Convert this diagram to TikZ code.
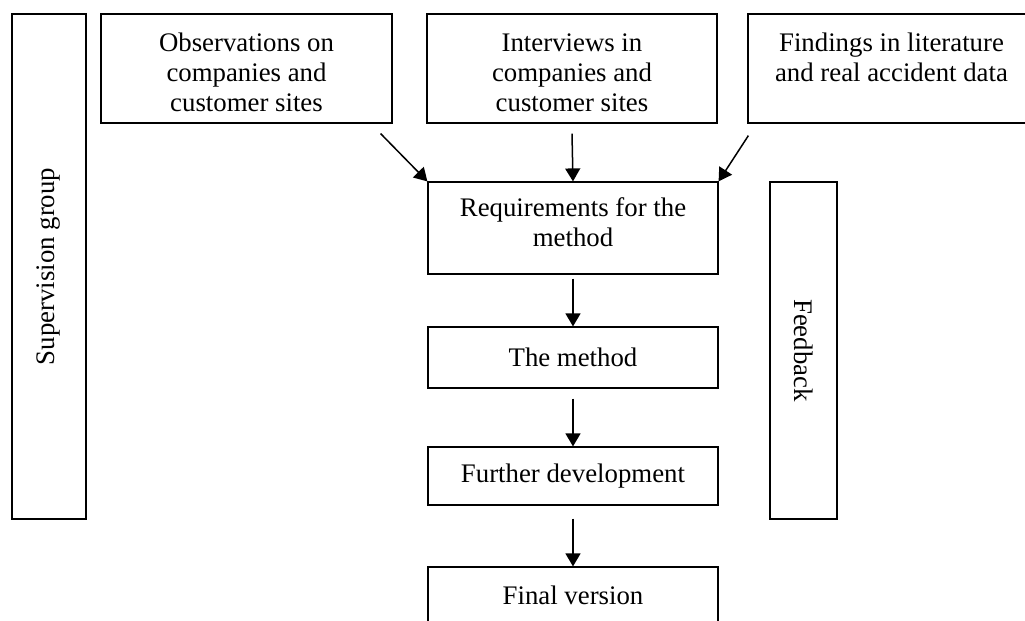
\documentclass[tikz,border=0pt]{standalone}
\usepackage{fontspec}
\setmainfont{Liberation Serif}
\usetikzlibrary{arrows.meta,calc}
\newcommand\toppad{\rule{0pt}{13.5pt}}
\begin{document}
\begin{tikzpicture}[x=0.5pt,y=-0.5pt,
  font=\fontsize{13.4}{15}\selectfont,
  box/.style={draw, line width=0.6pt, inner sep=0pt, align=center},
  flow/.style={line width=0.75pt, -{Triangle[length=6.5pt,width=7.5pt]}}]
  \useasboundingbox[clip] (0,0) rectangle (1025,621);
  % side panels
  \node[box, rotate=90, minimum width=505*0.5pt, minimum height=74*0.5pt]
    (sup) at (49,266.5) {Supervision group};
  \node[box, rotate=-90, minimum width=337*0.5pt, minimum height=67*0.5pt]
    (fb) at (803.5,350.5) {Feedback};
  % input sources
  \node[box, minimum width=291*0.5pt, minimum height=109*0.5pt]
    (obs) at (246.5,68.5) {\toppad Observations on\\companies and\\customer sites};
  \node[box, minimum width=290*0.5pt, minimum height=109*0.5pt]
    (int) at (572,68.5) {\toppad Interviews in\\companies and\\customer sites};
  \node[box, minimum width=287*0.5pt, minimum height=109*0.5pt]
    (lit) at (891.5,68.5) {\toppad Findings in literature\\and real accident data\\\mbox{}};
  % main flow
  \node[box, minimum width=290*0.5pt, minimum height=92*0.5pt]
    (req) at (573,228) {Requirements for the\\method\rule[-6pt]{0pt}{0pt}};
  \node[box, minimum width=290*0.5pt, minimum height=61*0.5pt]
    (meth) at (573,357.5) {The method};
  \node[box, minimum width=290*0.5pt, minimum height=58*0.5pt]
    (fur) at (573,476) {Further development};
  \node[box, minimum width=290*0.5pt, minimum height=56*0.5pt]
    (fin) at (573,595) {Final version};
  % connectors
  \draw[flow] ($(obs.south east)+(-12,10)$) -- (req.north west);
  \draw[flow] ($(int.south)+(0,10)$) -- (req.north);
  \draw[flow] ($(lit.south west)+(1,12)$) -- (req.north east);
  \draw[flow] ($(req.south)+(0,4)$) -- (meth.north);
  \draw[flow] ($(meth.south)+(0,10)$) -- (fur.north);
  \draw[flow] ($(fur.south)+(0,13)$) -- (fin.north);
\end{tikzpicture}
\end{document}
